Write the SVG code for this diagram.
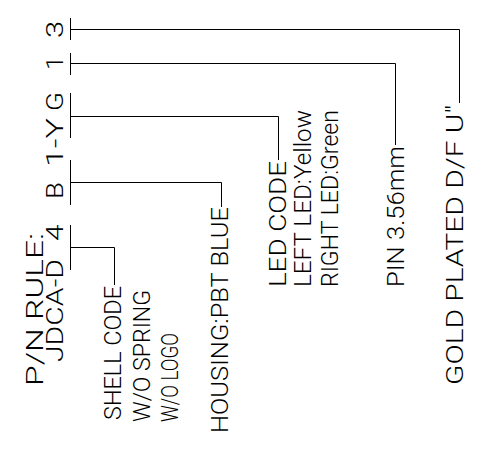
<svg xmlns="http://www.w3.org/2000/svg" width="478" height="451" viewBox="0 0 478 451">
<style>
text{font-family:Roboto,"Liberation Sans",sans-serif;font-size:23px;font-weight:300;fill:#000}
.c line,.c polyline{stroke:#000;stroke-width:1;fill:none}
</style>
<rect width="478" height="451" fill="#fff"/>
<g id="title"><text transform="translate(43,386) rotate(-90)" textLength="153" lengthAdjust="spacingAndGlyphs">P/N RULE:</text></g>
<g id="code" transform="translate(63,0) rotate(-90)">
<text x="-362" textLength="103" lengthAdjust="spacingAndGlyphs">JDCA-D</text>
<text transform="translate(-241,0) scale(1.3,1)">4</text>
<text transform="translate(-199,0) scale(1.2,1)">B</text>
<text x="-167" textLength="49" lengthAdjust="spacingAndGlyphs">1-Y</text>
<text transform="translate(-111,0) scale(1.2,1)">G</text>
<text transform="translate(-70,0) scale(1.1,1)">1</text>
<text transform="translate(-38,0) scale(1.35,1)">3</text>
</g>
<g id="shell">
<text transform="translate(121,420) rotate(-90)" textLength="134" lengthAdjust="spacingAndGlyphs">SHELL CODE</text>
<text transform="translate(150,422) rotate(-90)" textLength="132" lengthAdjust="spacingAndGlyphs">W/O SPRING</text>
<text transform="translate(178,422) rotate(-90)" textLength="89" lengthAdjust="spacingAndGlyphs">W/O LOGO</text>
</g>
<g id="housing"><text transform="translate(228,433) rotate(-90)" textLength="226" lengthAdjust="spacingAndGlyphs">HOUSING:PBT BLUE</text></g>
<g id="led">
<text transform="translate(286,287) rotate(-90)" textLength="126" lengthAdjust="spacingAndGlyphs">LED CODE</text>
<text transform="translate(311,287) rotate(-90)" textLength="177" lengthAdjust="spacingAndGlyphs">LEFT LED:Yellow</text>
<text transform="translate(338,287) rotate(-90)" textLength="177" lengthAdjust="spacingAndGlyphs">RIGHT LED:Green</text>
</g>
<g id="pin"><text transform="translate(404,287) rotate(-90)" textLength="141" lengthAdjust="spacingAndGlyphs">PIN 3.56mm</text></g>
<g id="gold"><text transform="translate(463,385) rotate(-90)" textLength="280" lengthAdjust="spacingAndGlyphs">GOLD PLATED D/F U″</text></g>
<g id="connectors" class="c">
<line x1="70.5" y1="18" x2="70.5" y2="40"/>
<line x1="70.5" y1="53" x2="70.5" y2="75"/>
<line x1="70.5" y1="93" x2="70.5" y2="138"/>
<line x1="70.5" y1="160" x2="70.5" y2="205"/>
<line x1="70.5" y1="225" x2="70.5" y2="270"/>
<polyline points="70,29.5 459.5,29.5 459.5,103"/>
<polyline points="70,63.5 395.5,63.5 395.5,145"/>
<polyline points="70,116.5 278.5,116.5 278.5,160"/>
<polyline points="70,182.5 221.5,182.5 221.5,207"/>
<polyline points="70,247.5 114.5,247.5 114.5,285"/>
</g>
</svg>
